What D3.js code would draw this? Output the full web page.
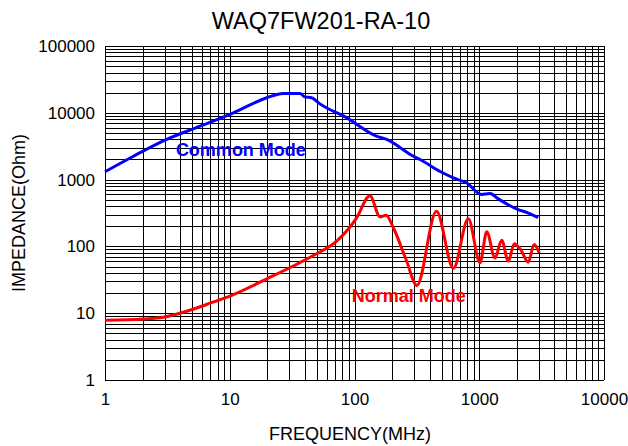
<!DOCTYPE html>
<html>
<head>
<meta charset="utf-8">
<script src="https://cdn.jsdelivr.net/npm/d3@7"></script>
<style>
  body { margin: 0; background: #fff; }
  text { font-family: "Liberation Sans", Arial, sans-serif; fill: #000; }
</style>
</head>
<body>
<div id="chart"></div>
<script>
const chartTitle = 'WAQ7FW201-RA-10';
const xTicks = [1, 10, 100, 1000, 10000];
const yTicks = [1, 10, 100, 1000, 10000, 100000];

// Common Mode (blue)
const cmFreq = [1, 1.69, 3.12, 5.78, 10.7, 19.8, 26.9, 36.6, 40, 45.3, 52.8, 86.7, 150, 181, 296, 335, 487, 620, 794, 1040, 1220, 1420, 2050, 2480, 2960];
const cmZ = [1310, 2240, 4000, 6300, 10000, 16800, 19500, 19500, 17300, 16800, 13600, 8400, 4470, 4000, 2240, 2000, 1320, 1060, 890, 600, 620, 515, 355, 316, 270];

// Normal Mode (red)
const nmFreq = [1, 2.03, 2.93, 4.52, 6.5, 10.7, 19.8, 32, 46.7, 72, 90, 104, 133, 160, 179, 205, 262, 316, 454, 620, 817, 1014, 1148, 1337, 1513, 1710, 1910, 2160, 2473, 2750, 3030];
const nmZ = [7.85, 8.2, 8.7, 10.7, 13.5, 19, 32.7, 50.4, 73, 120, 185, 268, 575, 277, 293, 190, 60, 26, 335, 47, 259, 57, 165, 67, 124, 60, 110, 88, 58, 107, 80];

const width = 628;
const height = 446;
const margin = { top: 46, right: 24, bottom: 66, left: 105 };
const plotW = width - margin.left - margin.right;
const plotH = height - margin.top - margin.bottom;

const svg = d3.select('#chart')
  .append('svg')
  .attr('width', width)
  .attr('height', height);

const x = d3.scaleLog().domain([1, 10000]).range([0, plotW]);
const y = d3.scaleLog().domain([1, 100000]).range([plotH, 0]);

const g = svg.append('g')
  .attr('transform', `translate(${margin.left},${margin.top})`);

// minor + major grid
const xGrid = [];
for (let d = 1; d < 10000; d *= 10) for (let k = 1; k <= 10; k++) xGrid.push(d * k);
const yGrid = [];
for (let d = 1; d < 100000; d *= 10) for (let k = 1; k <= 10; k++) yGrid.push(d * k);

g.append('g')
  .selectAll('line')
  .data(xGrid)
  .enter()
  .append('line')
  .attr('x1', d => Math.round(x(d)) + 0.5)
  .attr('x2', d => Math.round(x(d)) + 0.5)
  .attr('y1', 0)
  .attr('y2', plotH)
  .attr('stroke', '#000')
  .attr('stroke-width', 1);

g.append('g')
  .selectAll('line')
  .data(yGrid)
  .enter()
  .append('line')
  .attr('x1', 0)
  .attr('x2', plotW)
  .attr('y1', d => Math.round(y(d)) + 0.5)
  .attr('y2', d => Math.round(y(d)) + 0.5)
  .attr('stroke', '#000')
  .attr('stroke-width', 1);

// axes (labels only)
g.append('g')
  .attr('transform', `translate(0,${plotH})`)
  .call(d3.axisBottom(x).tickValues(xTicks).tickFormat(d3.format('d')).tickSize(0).tickPadding(13))
  .call(a => a.select('.domain').remove())
  .selectAll('text')
  .style('font-size', '17px')
  .style('font-family', '"Liberation Sans", Arial, sans-serif');

g.append('g')
  .call(d3.axisLeft(y).tickValues(yTicks).tickFormat(d3.format('d')).tickSize(0).tickPadding(10))
  .call(a => a.select('.domain').remove())
  .selectAll('text')
  .style('font-size', '17px')
  .style('font-family', '"Liberation Sans", Arial, sans-serif');

const line = d3.line()
  .x(d => x(d[0]))
  .y(d => y(d[1]))
  .curve(d3.curveMonotoneX);

g.append('path')
  .datum(d3.zip(cmFreq, cmZ))
  .attr('fill', 'none')
  .attr('stroke', '#0000ff')
  .attr('stroke-width', 3)
  .attr('stroke-linejoin', 'round')
  .attr('d', line);

g.append('path')
  .datum(d3.zip(nmFreq, nmZ))
  .attr('fill', 'none')
  .attr('stroke', '#ff0000')
  .attr('stroke-width', 3)
  .attr('stroke-linejoin', 'round')
  .attr('d', line);

// series labels
g.append('text')
  .attr('x', x(3.7))
  .attr('y', y(2820))
  .attr('dy', '0.35em')
  .style('font-size', '18px')
  .style('font-weight', 'bold')
  .style('fill', '#0000ff')
  .text('Common Mode');

g.append('text')
  .attr('x', x(95))
  .attr('y', y(18.4))
  .attr('dy', '0.35em')
  .style('font-size', '18px')
  .style('font-weight', 'bold')
  .style('fill', '#ff0000')
  .text('Normal Mode');

// titles
svg.append('text')
  .attr('x', 321)
  .attr('y', 29)
  .attr('text-anchor', 'middle')
  .style('font-size', '23.5px')
  .text(chartTitle);

svg.append('text')
  .attr('x', 350)
  .attr('y', 440)
  .attr('text-anchor', 'middle')
  .style('font-size', '18px')
  .text('FREQUENCY(MHz)');

svg.append('text')
  .attr('transform', `translate(25,${margin.top + plotH / 2 + 0}) rotate(-90)`)
  .attr('text-anchor', 'middle')
  .style('font-size', '18px')
  .text('IMPEDANCE(Ohm)');
</script>
</body>
</html>
